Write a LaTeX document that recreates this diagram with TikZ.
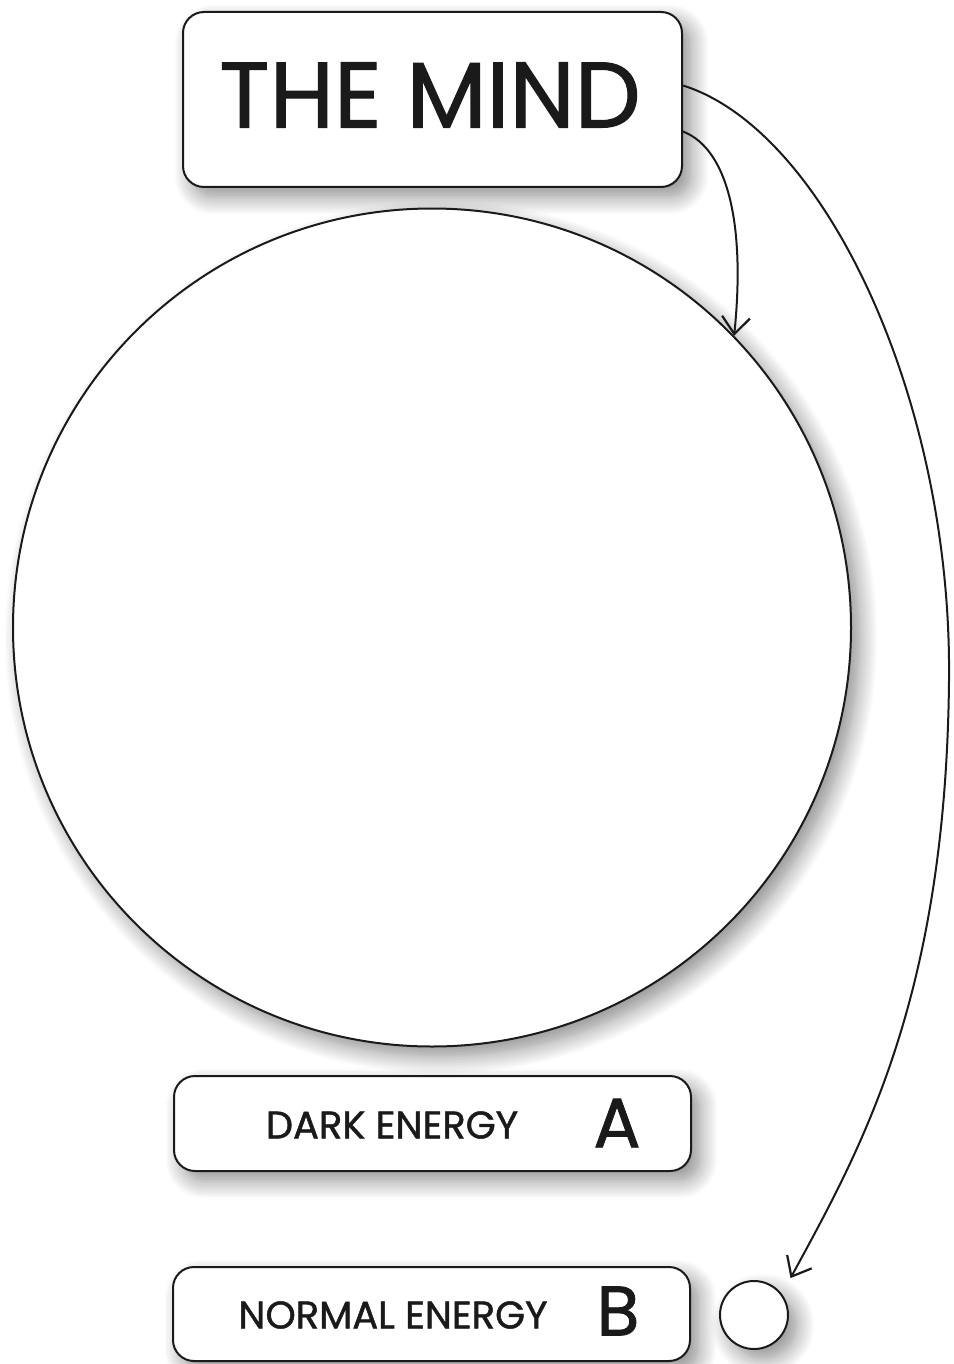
\documentclass[tikz,border=0pt]{standalone}
\usepackage{fontspec}
\setmainfont{Poppins}[FakeBold=1.2]
\usetikzlibrary{arrows.meta,shadows.blur}
\definecolor{cink}{RGB}{26,26,26}
\tikzset{mindsec/.style={x=1pt,y=-1pt,line width=2pt},
  softshadow/.style={blur shadow={shadow xshift=9pt,shadow yshift=-10pt,shadow blur radius=18pt,shadow blur steps=12,shadow opacity=45}},
  panel/.style={draw=cink,fill=white,rounded corners=21pt,inner sep=0pt,softshadow},
  disc/.style={circle,draw=cink,fill=white,inner sep=0pt,softshadow},
  lbl/.style={text=cink,inner sep=0pt},
  feed/.style={draw=cink,-{Straight Barb[length=17pt,width=28pt,line width=2.2pt]}}}

\begin{document}
\begin{tikzpicture}[mindsec]
    \useasboundingbox (0,0) rectangle (953,1364);
    \node[panel,minimum width=499pt,minimum height=175pt] (mind) at (432.5,99.5) {};
    \node[lbl,font=\fontsize{93}{93}\selectfont] (mindtxt) at (430,95) {THE MIND};
    \node[disc,minimum size=838pt] (sphere) at (432,627.5) {};
    \node[panel,minimum width=517pt,minimum height=95pt] (dark) at (432.5,1123.5) {};
    \node[lbl,font=\fontsize{38.5}{38.5}\selectfont] (darktxt) at (392,1125) {DARK ENERGY};
    \node[lbl,font=\fontsize{70}{70}\selectfont] (darkkey) at (617,1123) {A};
    \node[panel,minimum width=517pt,minimum height=94pt] (normal) at (431.5,1314) {};
    \node[lbl,font=\fontsize{38.5}{38.5}\selectfont] (normaltxt) at (393,1315) {NORMAL ENERGY};
    \node[lbl,font=\fontsize{70}{70}\selectfont] (normalkey) at (618,1311) {B};
    \node[disc,minimum size=68pt] (dot) at (754,1315) {};
    % connectors
    \draw[feed] ([yshift=-32pt]mind.east) .. controls (730,150) and (745,230) .. (sphere.44);
    \draw[feed,shorten >=18pt] ([yshift=14pt]mind.east) .. controls (825,130) and (952,400) .. (949,680)
      .. controls (946,1000) and (860,1150) .. (dot.37);
\end{tikzpicture}
\end{document}
